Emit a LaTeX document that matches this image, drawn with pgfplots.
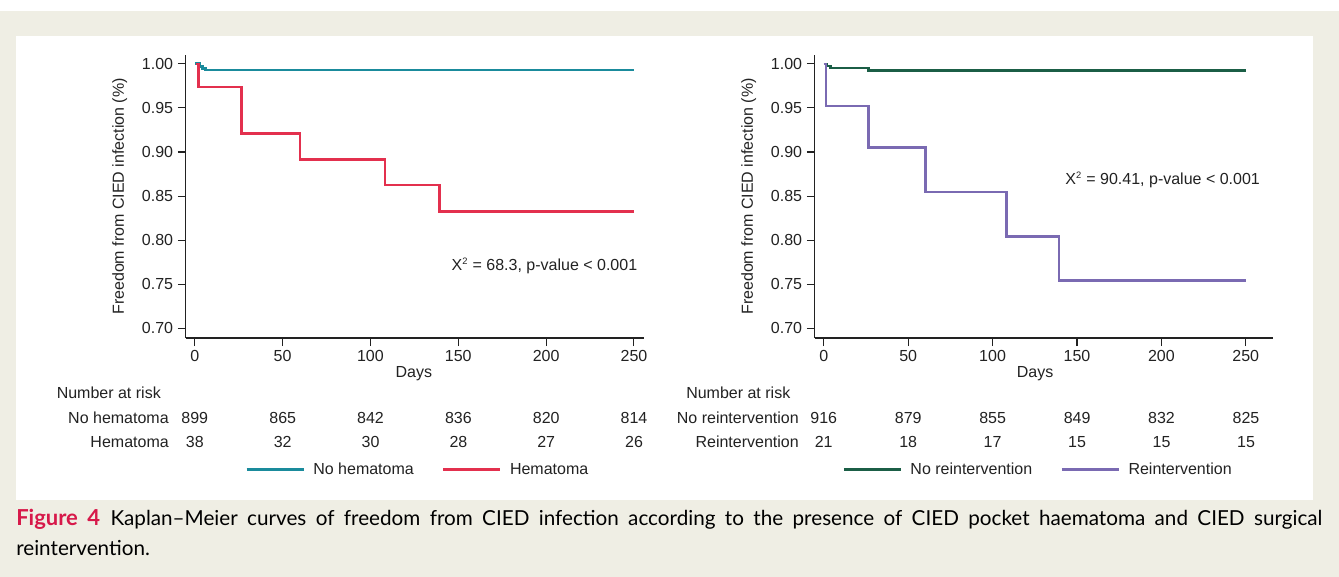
\documentclass[border=0pt]{standalone}
\usepackage{fontspec}
\setmainfont{Liberation Sans}
\newfontfamily\capfont{Lato}
\usepackage{pgfplots}
\pgfplotsset{compat=1.18}
\definecolor{bgbeige}{HTML}{EFEEE4}
\definecolor{kmteal}{HTML}{1A8B9C}
\definecolor{kmred}{HTML}{E3304E}
\definecolor{kmgreen}{HTML}{1B5E46}
\definecolor{kmpurple}{HTML}{7A6AB2}
\definecolor{figred}{HTML}{D7194A}
\definecolor{txt}{HTML}{222222}
\pgfplotsset{
  kmaxis/.style={
    width=343.5pt, height=212.25pt, scale only axis,
    anchor=south west,
    ymin=0.689, ymax=1.010,
    axis x line*=bottom, axis y line*=left,
    axis line style={-, color=txt, line width=0.9pt},
    xtick={0,50,100,150,200,250},
    ytick={0.70,0.75,0.80,0.85,0.90,0.95,1.00},
    tick align=outside, major tick length=6pt,
    tick style={color=txt, line width=0.8pt},
    yticklabel style={/pgf/number format/.cd, fixed, fixed zerofill, precision=2},
    /pgf/number format/assume math mode=true,
    font=\fontsize{12}{14}\selectfont\color{txt},
    ticklabel style={font=\fontsize{12}{14}\selectfont\color{txt}},
    ylabel={Freedom from CIED infection (\%)},
    ylabel style={at={(axis description cs:-0.1445,0.5)}, anchor=center},
    xlabel={Days},
    legend columns=2,
    legend image code/.code={\draw[#1, line width=2.4pt] (0pt,0pt) -- (42.75pt,0pt);},
    legend style={draw=none, fill=none, inner sep=0pt, anchor=west,
      nodes={inner sep=0pt, font=\fontsize{12}{14}\selectfont\color{txt}},
      /tikz/every odd column/.append style={column sep=6pt},
      /tikz/every even column/.append style={column sep=21pt}},
  }
}
\begin{document}
\begin{tikzpicture}
\begin{scope}[x=0.75pt,y=-0.75pt]
  \fill[white] (0,0) rectangle (1339,577);
  \fill[bgbeige] (0,11) rectangle (1339,577);
  \fill[white] (16,36) rectangle (1313,500);
  % risk tables
  \begin{scope}[every node/.style={inner sep=0pt, font=\fontsize{12}{14}\selectfont, text=txt}]
    \node[anchor=west] at (56.5,393) {Number at risk};
    \node[anchor=east] at (169,418) {No hematoma};
    \node[anchor=east] at (169,442) {Hematoma};
    \node at (194.8,418) {899}; \node at (282.7,418) {865}; \node at (370.5,418) {842};
    \node at (458.4,418) {836}; \node at (546.2,418) {820}; \node at (634.0,418) {814};
    \node at (194.8,442) {38}; \node at (282.7,442) {32}; \node at (370.5,442) {30};
    \node at (458.4,442) {28}; \node at (546.2,442) {27}; \node at (634.0,442) {26};
    \node[anchor=west] at (686,393) {Number at risk};
    \node[anchor=east] at (799,418) {No reintervention};
    \node[anchor=east] at (799,442) {Reintervention};
    \node at (823.7,418) {916}; \node at (908.2,418) {879}; \node at (992.6,418) {855};
    \node at (1077.1,418) {849}; \node at (1161.5,418) {832}; \node at (1246.0,418) {825};
    \node at (823.7,442) {21}; \node at (908.2,442) {18}; \node at (992.6,442) {17};
    \node at (1077.1,442) {15}; \node at (1161.5,442) {15}; \node at (1246.0,442) {15};
  \end{scope}
  \node[anchor=north west, inner sep=0pt, text width=979.5pt, align=justify,
        font=\capfont\fontsize{15.5}{22.5}\selectfont] at (16,509)
    {{\bfseries\fontsize{16.5}{22.5}\selectfont\color{figred}Figure 4}\hspace{0.5em}Kaplan–Meier curves of freedom from CIED infection according to the presence of CIED pocket haematoma and CIED surgical\linebreak reintervention.};
\end{scope}

\begin{axis}[kmaxis, at={(139.35pt,-253.5pt)}, xmin=-5.1, xmax=255.6,
  xlabel style={at={(axis description cs:0.498,-0.127)}, anchor=center},
  legend style={at={(axis description cs:0.129,-0.466)}}]
  \addplot[const plot, color=kmteal, line width=2pt] coordinates
    {(0,1) (3,0.997) (4.5,0.995) (6,0.993) (250,0.993)};
  \addlegendentry{No hematoma}
  \addplot[const plot, color=kmred, line width=1.9pt] coordinates
    {(0.7,1) (2,0.9737) (26.5,0.9208) (60,0.8916) (108.3,0.8626) (139.4,0.8326) (250,0.8326)};
  \addlegendentry{Hematoma}
  \node[anchor=east, inner sep=0pt] at (axis cs:252,0.7705) {X\textsuperscript{\scriptsize 2} = 68.3, p-value < 0.001};
\end{axis}

\begin{axis}[kmaxis, at={(611.1pt,-253.5pt)}, xmin=-5.3, xmax=266,
  xlabel style={at={(axis description cs:0.481,-0.127)}, anchor=center},
  legend style={at={(axis description cs:0.0594,-0.466)}}]
  \addplot[const plot, color=kmgreen, line width=1.9pt] coordinates
    {(0,1) (2,0.9975) (4,0.995) (26.5,0.9925) (250,0.9925)};
  \addlegendentry{No reintervention}
  \addplot[const plot, color=kmpurple, line width=1.9pt] coordinates
    {(0,1) (1.3,0.9524) (26.5,0.9048) (60.3,0.8545) (108.2,0.8043) (139.3,0.7540) (250,0.7540)};
  \addlegendentry{Reintervention}
  \node[anchor=west, inner sep=0pt] at (axis cs:143,0.868) {X\textsuperscript{\scriptsize 2} = 90.41, p-value < 0.001};
\end{axis}
\end{tikzpicture}
\end{document}
